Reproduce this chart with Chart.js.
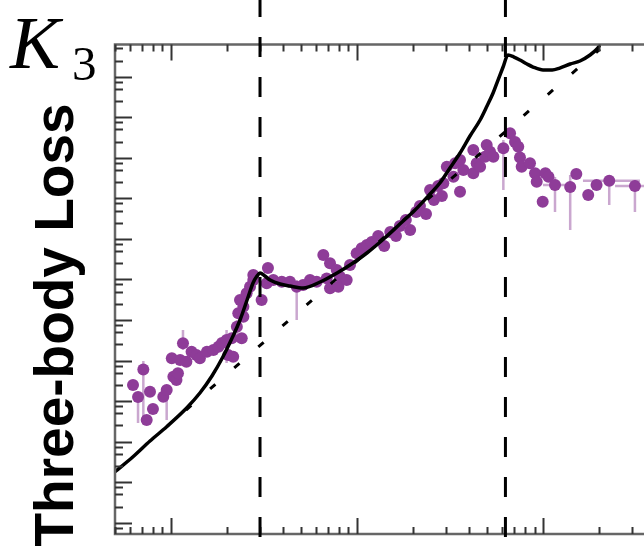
<!DOCTYPE html>
<html>
<head>
<meta charset="utf-8">
<script src="https://cdn.jsdelivr.net/npm/chart.js@4.4.0/dist/chart.umd.min.js"></script>
<style>
  html, body { margin: 0; padding: 0; background: #fff; overflow: hidden; }
  #wrap { width: 670px; height: 549px; }
</style>
</head>
<body>
<div id="wrap"><canvas id="chart" width="670" height="549"></canvas></div>
<script>
// measured three-body loss (purple points), arbitrary units on both axes
const measA = [
  0.625, 0.665, 0.710, 0.740, 0.771, 0.800, 0.909, 0.948, 1.01, 1.03,
  1.07, 1.09, 1.12, 1.16, 1.21, 1.29, 1.37, 1.43, 1.56, 1.69,
  1.80, 1.88, 1.99, 2.03, 2.16, 2.12, 2.26, 2.40, 2.30, 2.45,
  2.45, 2.35, 2.55, 2.66, 2.77, 2.77, 3.07, 3.27, 3.32, 3.55,
  3.94, 4.36, 4.74, 5.13, 5.59, 6.07, 6.59, 6.87, 7.16, 7.16,
  7.78, 7.94, 8.10, 8.80, 9.17, 9.96, 10.6, 11.3, 12.0, 13.0,
  14.0, 15.1, 16.2, 17.0, 18.3, 19.3, 20.8, 21.8, 23.5, 24.7,
  25.9, 27.3, 28.6, 29.1, 30.4, 33.0, 33.7, 35.8, 35.8, 37.3,
  42.2, 42.2, 44.0, 45.9, 48.8, 49.8, 51.9, 54.1, 61.2, 66.5,
  70.7, 73.6, 75.2, 76.8, 85.1, 90.6, 92.5, 103, 107, 99.6,
  116, 140, 151, 175, 194, 227, 312
];
const measK3 = [
  2.49e3, 1.26e3, 6.00e3, 3.41e2, 1.70e3, 6.37e2, 1.28e3, 1.87e3, 1.13e4, 3.99e3,
  3.30e3, 4.83e3, 1.03e4, 2.66e4, 9.34e3, 1.65e4, 1.37e4, 1.13e4, 1.65e4, 1.82e4,
  2.19e4, 2.70e4, 3.20e4, 1.37e4, 1.24e4, 3.53e4, 6.82e4, 3.53e4, 1.46e5, 2.12e5,
  1.20e5, 3.10e5, 4.54e5, 6.61e5, 9.67e5, 1.28e6, 3.10e5, 8.01e5, 1.91e6, 9.67e5,
  8.78e5, 8.78e5, 6.61e5, 7.28e5, 9.67e5, 8.78e5, 4.00e6, 1.06e6, 2.49e6, 6.03e5,
  1.70e6, 6.61e5, 1.17e6, 9.67e5, 2.27e6, 4.40e6, 5.85e6, 7.05e6, 8.36e6, 1.18e7,
  6.66e6, 1.48e7, 1.18e7, 2.07e7, 2.92e7, 1.65e7, 4.59e7, 6.46e7, 4.10e7, 1.60e8,
  9.08e7, 2.01e8, 1.14e8, 2.34e8, 6.02e8, 3.41e8, 7.30e8, 8.80e8, 1.46e8, 4.99e8,
  1.55e9, 4.14e8, 7.30e8, 6.02e8, 1.06e9, 2.06e9, 1.41e9, 1.06e9, 1.71e9, 4.01e9,
  2.45e9, 1.87e9, 1.01e9, 6.02e8, 7.30e8, 4.14e8, 2.57e8, 4.14e8, 3.41e8, 8.25e7,
  2.13e8, 1.90e8, 3.97e8, 1.21e8, 2.13e8, 2.72e8, 2.01e8
];

// vertical error bars
const errA  = [0.710, 0.665, 0.948, 1.16, 1.99, 2.26, 4.74, 61.2, 116, 140, 227, 312];
const errLo = [2.72e2, 2.87e2, 3.41e2, 1.82e4, 8.68e3, 2.86e4, 9.97e4, 1.60e8, 4.59e7, 1.65e7, 6.84e7, 4.59e7];
const errHi = [9.72e3, 1.58e3, 2.49e3, 5.65e4, 5.65e4, 9.97e4, 9.67e5, 2.74e9, 3.35e8, 3.76e8, 3.35e8, 2.83e8];

// horizontal error bars
const xErrK3 = [2.13e8, 2.72e8, 2.01e8];
const xErrLo = [100, 164, 244];
const xErrHi = [143, 332, 426];

// theory curve (solid)
const curveA = [
  0.5, 0.625, 0.771, 0.948, 1.21, 1.43, 1.66, 1.90, 2.13, 2.35,
  2.60, 2.76, 2.90, 3.01, 3.20, 3.41, 3.86, 4.36, 5.13, 6.33,
  7.81, 9.52, 11.3, 14.1, 17.0, 20.5, 24.7, 27.9, 31.6, 35.8,
  40.5, 45.9, 50.0, 53.9, 57.3, 61.0, 64.8, 69.8, 75.2, 82.0,
  88.4, 100, 112, 123, 140, 158, 179, 195, 202
];
const curveK3 = [
  18.1, 42.4, 103.5, 233, 663, 1.58e3, 4.15e3, 1.22e4, 3.59e4, 9.97e4,
  3.74e5, 8.15e5, 1.21e6, 1.44e6, 1.21e6, 9.67e5, 7.70e5, 6.87e5, 6.14e5, 8.63e5,
  1.44e6, 2.54e6, 4.48e6, 1.05e7, 2.32e7, 5.14e7, 1.28e8, 2.38e8, 5.59e8, 1.31e9,
  3.44e9, 8.53e9, 1.89e10, 3.95e10, 8.27e10, 1.73e11, 3.42e11, 3.05e11, 2.57e11, 2.05e11,
  1.73e11, 1.46e11, 1.46e11, 1.63e11, 2.05e11, 2.43e11, 3.42e11, 4.81e11, 6.03e11
];

// a^4 law (dashed)
const powA = [1.204, 202.3];
const powK3 = [601, 4.79e11];

// Efimov resonance positions (vertical dashed lines)
const resonanceA = [3.01, 62.8];

// axis ranges and tick values
const aRange = [0.5, 400];
const k3Range = [0.5266, 6.21e11];
const aDecades = [0.1, 1, 10, 100];
const aMinorSteps = [2, 3, 4, 5, 6, 7, 8, 9];
const k3Decades = [0.1, 1, 1e1, 1e2, 1e3, 1e4, 1e5, 1e6, 1e7, 1e8, 1e9, 1e10, 1e11];
const k3MinorSteps = [2.5, 5, 7.5];

const purple = '#8e3c98';
const purpleErr = 'rgba(150, 80, 160, 0.5)';

const toPoints = (xs, ys) => xs.map((x, i) => ({ x: x, y: ys[i] }));

const inRange = (v, r) => v >= r[0] && v <= r[1];

const figurePlugin = {
    id: 'figure',
    beforeDatasetsDraw(chart) {
        const ctx = chart.ctx;
        const xs = chart.scales.x, ys = chart.scales.y;
        const area = chart.chartArea;
        ctx.save();
        ctx.beginPath();
        ctx.rect(area.left, area.top, area.right - area.left, area.bottom - area.top);
        ctx.clip();
        ctx.strokeStyle = purpleErr;
        ctx.lineWidth = 2.5;
        errA.forEach((a, i) => {
            const px = xs.getPixelForValue(a);
            ctx.beginPath();
            ctx.moveTo(px, ys.getPixelForValue(errLo[i]));
            ctx.lineTo(px, ys.getPixelForValue(errHi[i]));
            ctx.stroke();
        });
        xErrK3.forEach((k, i) => {
            const py = ys.getPixelForValue(k);
            ctx.beginPath();
            ctx.moveTo(xs.getPixelForValue(xErrLo[i]), py);
            ctx.lineTo(xs.getPixelForValue(xErrHi[i]), py);
            ctx.stroke();
        });
        ctx.restore();
    },
    afterDatasetsDraw(chart) {
        const ctx = chart.ctx;
        const xs = chart.scales.x, ys = chart.scales.y;
        const area = chart.chartArea;
        ctx.save();

        // frame
        ctx.strokeStyle = '#666';
        ctx.lineWidth = 2.5;
        ctx.strokeRect(area.left, area.top, area.right - area.left, area.bottom - area.top);

        // inward ticks
        ctx.strokeStyle = '#333';
        ctx.lineWidth = 2;
        const xTick = (v, len) => {
            if (!inRange(v, aRange)) return;
            const px = Math.round(xs.getPixelForValue(v)) + 0.5;
            ctx.beginPath();
            ctx.moveTo(px, area.bottom);
            ctx.lineTo(px, area.bottom - len);
            ctx.moveTo(px, area.top);
            ctx.lineTo(px, area.top + len);
            ctx.stroke();
        };
        const yTick = (v, len) => {
            if (!inRange(v, k3Range)) return;
            const py = Math.round(ys.getPixelForValue(v)) + 0.5;
            ctx.beginPath();
            ctx.moveTo(area.left, py);
            ctx.lineTo(area.left + len, py);
            ctx.stroke();
        };
        aDecades.forEach(d => {
            xTick(d, 16);
            aMinorSteps.forEach(s => xTick(d * s, 7));
        });
        k3Decades.forEach(d => {
            yTick(d, 17);
            k3MinorSteps.forEach(s => yTick(d * s, 8));
        });

        // resonance lines, running past the frame
        ctx.strokeStyle = '#000';
        ctx.lineWidth = 3;
        ctx.setLineDash([20, 20]);
        ctx.lineDashOffset = 3;
        resonanceA.forEach(a => {
            const px = xs.getPixelForValue(a);
            ctx.beginPath();
            ctx.moveTo(px, 0);
            ctx.lineTo(px, chart.height);
            ctx.stroke();
        });
        ctx.setLineDash([]);

        // labels
        ctx.fillStyle = '#000';
        ctx.textAlign = 'left';
        ctx.textBaseline = 'alphabetic';
        ctx.font = 'italic 75px "Liberation Serif", serif';
        ctx.fillText('K', 10, 68);
        ctx.font = '49px "Liberation Serif", serif';
        ctx.fillText('3', 72, 80);

        ctx.translate(73, 325);
        ctx.rotate(-Math.PI / 2);
        ctx.textAlign = 'center';
        ctx.font = 'bold 55px "Liberation Sans", Arial, sans-serif';
        ctx.fillText('Three-body Loss', 0, 0);
        ctx.restore();
    }
};

new Chart(document.getElementById('chart'), {
    type: 'scatter',
    data: {
        datasets: [
            {
                label: 'theory',
                data: toPoints(curveA, curveK3),
                showLine: true,
                borderColor: '#000',
                borderWidth: 3.5,
                pointRadius: 0,
                cubicInterpolationMode: 'monotone',
                order: 0
            },
            {
                label: 'a^4',
                data: toPoints(powA, powK3),
                showLine: true,
                borderColor: '#000',
                borderWidth: 3,
                borderDash: [7, 25],
                pointRadius: 0,
                order: 1
            },
            {
                label: 'data',
                data: toPoints(measA, measK3),
                backgroundColor: purple,
                borderWidth: 0,
                pointRadius: 6,
                order: 2
            }
        ]
    },
    options: {
        responsive: false,
        animation: false,
        layout: { padding: { left: 115, top: 44.5, right: 15, bottom: 15 } },
        plugins: { legend: { display: false }, tooltip: { enabled: false } },
        scales: {
            x: { type: 'logarithmic', min: aRange[0], max: aRange[1], display: false },
            y: { type: 'logarithmic', min: k3Range[0], max: k3Range[1], display: false }
        }
    },
    plugins: [figurePlugin]
});
</script>
</body>
</html>
